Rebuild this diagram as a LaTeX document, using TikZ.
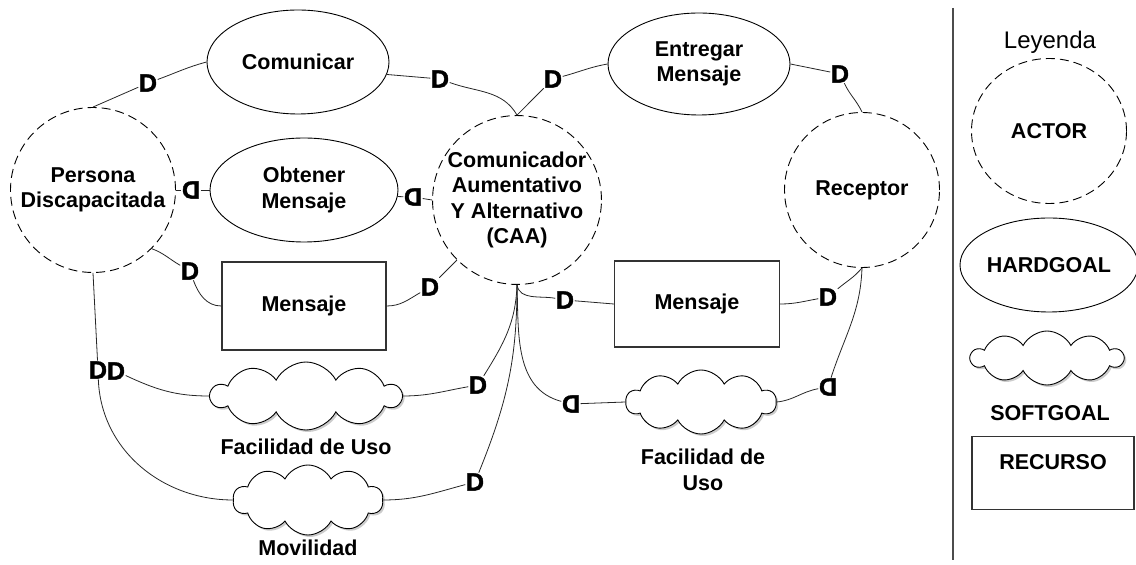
\documentclass[tikz,border=0pt]{standalone}
\usepackage{fontspec}
\setmainfont{Liberation Sans}
\newfontface\dfont{Liberation Sans Bold}[FakeBold=1.8]
\usetikzlibrary{shapes.geometric,shapes.symbols,shadows}
\begin{document}
\begin{tikzpicture}[x=1pt,y=1pt,
  font=\fontsize{21.5}{25.5}\selectfont\bfseries,
  actor/.style={circle,draw,dash pattern=on 9pt off 5pt,line width=0.9pt,inner sep=0pt,align=center},
  hard/.style={ellipse,draw,line width=0.9pt,inner sep=0pt,align=center},
  res/.style={rectangle,draw=black!80,line width=1.2pt,inner sep=0pt},
  soft/.style={cloud,draw,cloud puffs=10,cloud puff arc=125,cloud ignores aspect,line width=0.9pt,fill=white,inner sep=0pt,
    drop shadow={shadow xshift=2pt,shadow yshift=-2pt,fill=black!40}},
  dm/.style={inner sep=0.5pt,font=\fontsize{25}{26}\dfont},
  link/.style={line width=0.8pt,black!85},
]
\useasboundingbox (0,0) rectangle (1136,565);

% actors and elements
\node[actor,minimum size=165pt] (pd) at (93,375) {Persona\\Discapacitada};
\node[hard,minimum width=182pt,minimum height=104pt] (com) at (298,503) {Comunicar};
\node[hard,minimum width=188pt,minimum height=104pt] (obt) at (304,375) {Obtener\\Mensaje};
\node[actor,minimum size=166pt] (caa) at (517,365) {Comunicador\\Aumentativo\\Y Alternativo\\(CAA)};
\node[hard,minimum width=182pt,minimum height=102pt] (ent) at (699,501) {Entregar\\Mensaje};
\node[actor,minimum size=155pt] (rec) at (862,375) {Receptor};
\node[res,minimum width=164pt,minimum height=88pt] (msg1) at (304,259) {Mensaje};
\node[res,minimum width=165pt,minimum height=86pt] (msg2) at (697,261) {Mensaje};
\node[soft,minimum width=190pt,minimum height=68pt] (fac1) at (306,169) {};
\node (fac1l) at (306,118) {Facilidad de Uso};
\node[soft,minimum width=150pt,minimum height=70pt] (mov) at (308,65) {};
\node (movl) at (308,17) {Movilidad};
\node[soft,minimum width=150pt,minimum height=64pt] (fac2) at (701,163) {};
\node[align=center] (fac2l) at (703,95) {Facilidad de\\Uso};

% D markers
\node[dm] (d1) at (148,482) {D};
\node[dm] (d2) at (440,486) {D};
\node[dm] (d3) at (553,486) {D};
\node[dm] (d4) at (840,491) {D};
\node[dm] (d5) at (191,375) {\reflectbox{D}};
\node[dm] (d6) at (413,368) {\reflectbox{D}};
\node[dm] (d7) at (190,294) {D};
\node[dm] (d8) at (430,278) {D};
\node[dm] (d9) at (565,265) {D};
\node[dm] (d10) at (828,268) {D};
\node[dm] (d11a) at (98,195) {D};
\node[dm] (d11b) at (116,194) {D};
\node[dm] (d12) at (478,180) {D};
\node[dm] (d13) at (475,83) {D};
\node[dm] (d14) at (571,161) {\reflectbox{D}};
\node[dm] (d15) at (828,178) {\reflectbox{D}};

% connectors
\draw[link] (pd.north) -- (d1);
\draw[link] (d1) to[out=20,in=195] (com.west);
\draw[link] (com.-8) -- (d2);
\draw[link] (d2) to[out=-20,in=120] (caa.north);
\draw[link] (caa.north) -- (d3);
\draw[link] (d3) to[out=15,in=190] (ent.west);
\draw[link] (ent.east) -- (d4);
\draw[link] (d4) to[out=-65,in=115] (rec.north);
\draw[link] (pd.east) -- (d5);
\draw[link] (d5) -- (obt.west);
\draw[link] (obt.-4) -- (d6);
\draw[link] (d6) -- (caa.west);
\draw[link] (pd.-45) to[out=-20,in=150] (d7);
\draw[link] (d7) to[out=-70,in=180] (msg1.west);
\draw[link] (msg1.east) to[out=0,in=210] (d8);
\draw[link] (d8) -- (caa.-135);
\draw[link] (caa.south) to[out=-80,in=170] (d9);
\draw[link] (d9) -- (msg2.west);
\draw[link] (msg2.east) to[out=0,in=190] (d10);
\draw[link] (d10) to[out=40,in=-130] (rec.south);
\draw[link] (pd.south) -- (d11a);
\draw[link] (d11a) to[out=-88,in=180] (mov.west);
\draw[link] (d11b) to[out=-25,in=180] (fac1.west);
\draw[link] (fac1.east) to[out=0,in=190] (d12);
\draw[link] (d12) to[out=58,in=-92] (caa.south);
\draw[link] (mov.east) to[out=0,in=195] (d13);
\draw[link] (d13) to[out=68,in=-90] (caa.south);
\draw[link] (caa.south) to[out=-88,in=165] (d14);
\draw[link] (d14) -- (fac2.west);
\draw[link] (fac2.east) to[out=5,in=190] (d15);
\draw[link] (d15) to[out=72,in=-92] (rec.south);

% legend
\coordinate (sepT) at (953,557);
\coordinate (sepB) at (953,5);
\draw[line width=1.2pt,black!70] (sepT) -- (sepB);
\node[font=\fontsize{24}{28}\selectfont\mdseries] (ley) at (1050,523) {Leyenda};
\node[actor,ellipse,minimum width=155pt,minimum height=145pt] (lactor) at (1049,434) {ACTOR};
\node[hard,minimum width=178pt,minimum height=94pt] (lhard) at (1049,300) {HARDGOAL};
\node[soft,minimum width=152pt,minimum height=54pt] (lsoft) at (1047,207) {};
\node (lsoftl) at (1050,152) {SOFTGOAL};
\node[res,minimum width=162pt,minimum height=73pt] (lres) at (1053,92) {};
\node (lresl) at (1053,103) {RECURSO};
\end{tikzpicture}
\end{document}
